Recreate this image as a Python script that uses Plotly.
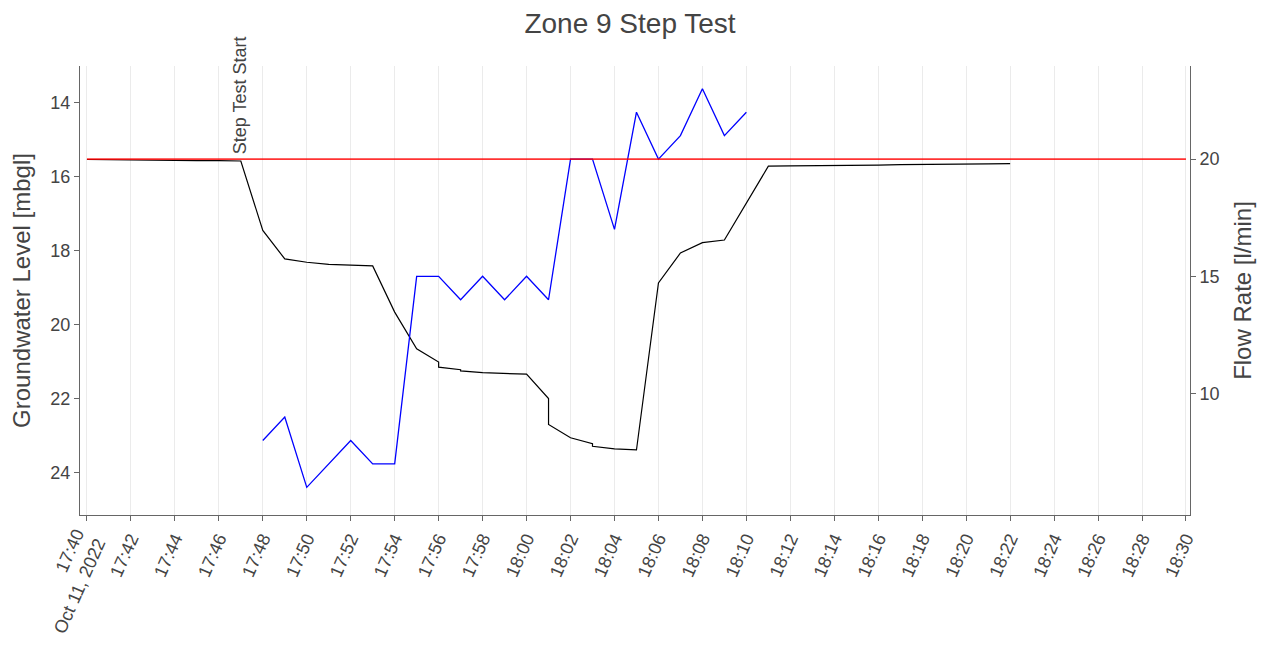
import plotly.graph_objects as go

DAY = "2022-10-11 "

# groundwater level (mbgl), duplicated minutes give the small vertical steps
gw_times = ["17:40", "17:41", "17:42", "17:43", "17:44", "17:45", "17:46", "17:47",
            "17:48", "17:49", "17:50", "17:51", "17:52", "17:53", "17:54", "17:55",
            "17:56", "17:56", "17:57", "17:57", "17:58", "17:59", "18:00",
            "18:01", "18:01", "18:02", "18:03", "18:03", "18:04", "18:05",
            "18:06", "18:07", "18:08", "18:09", "18:10", "18:11", "18:12", "18:13",
            "18:14", "18:15", "18:16", "18:17", "18:18", "18:19", "18:20", "18:21", "18:22"]
gw_level = [15.53, 15.54, 15.54, 15.55, 15.55, 15.56, 15.56, 15.57,
            17.45, 18.22, 18.31, 18.37, 18.39, 18.41, 19.66, 20.65,
            21.01, 21.15, 21.22, 21.25, 21.30, 21.32, 21.34,
            22.00, 22.70, 23.06, 23.22, 23.29, 23.36, 23.39,
            18.87, 18.06, 17.78, 17.71, 16.71, 15.71, 15.70, 15.70,
            15.69, 15.69, 15.68, 15.67, 15.67, 15.66, 15.65, 15.65, 15.64]

# flow rate (l/min)
flow_times = ["17:48", "17:49", "17:50", "17:51", "17:52", "17:53", "17:54", "17:55",
              "17:56", "17:57", "17:58", "17:59", "18:00", "18:01", "18:02", "18:03",
              "18:04", "18:05", "18:06", "18:07", "18:08", "18:09", "18:10"]
flow_rate = [8, 9, 6, 7, 8, 7, 7, 15,
             15, 14, 15, 14, 15, 14, 20, 20,
             17, 22, 20, 21, 23, 21, 22]

target_times = ["17:40", "18:30"]
target_flow = [20, 20]

step_start = "17:47"

fig = go.Figure()
fig.add_trace(go.Scatter(x=[DAY + t for t in gw_times], y=gw_level, mode="lines",
                         line=dict(color="black", width=1.2), name="Groundwater Level"))
fig.add_trace(go.Scatter(x=[DAY + t for t in flow_times], y=flow_rate, mode="lines",
                         line=dict(color="blue", width=1.3), name="Flow Rate", yaxis="y2"))
fig.add_trace(go.Scatter(x=[DAY + t for t in target_times], y=target_flow, mode="lines",
                         line=dict(color="red", width=1.8), opacity=0.8,
                         name="Target", yaxis="y2"))

fig.add_annotation(x=DAY + step_start, y=15.5, text="Step Test Start", textangle=-90,
                   showarrow=False, yanchor="bottom", yshift=2,
                   font=dict(size=18, color="#444"))

axis_style = dict(showline=True, linecolor="#666", linewidth=1, ticks="outside",
                  ticklen=5, tickcolor="#666", tickfont=dict(size=18, color="#444"),
                  zeroline=False, automargin=False)

fig.update_layout(
    width=1266, height=646,
    font=dict(family="Liberation Sans, Arial, sans-serif", color="#444"),
    title=dict(text="Zone 9 Step Test", x=622 / 1266, xanchor="center", y=1 - 15 / 646,
               yanchor="middle", font=dict(size=28, color="#444")),
    showlegend=False,
    plot_bgcolor="white", paper_bgcolor="white",
    margin=dict(l=72, r=84, t=58, b=139),
    xaxis=dict(**axis_style, showgrid=True, gridcolor="#ebebeb", dtick=120000,
               tickangle=-66,
               range=[DAY + "17:39:41", DAY + "18:30:11"]),
    yaxis=dict(**axis_style, showgrid=False, range=[25.15, 13.0],
               title=dict(text="Groundwater Level [mbgl]", font=dict(size=24, color="#444"))),
    yaxis2=dict(**axis_style, showgrid=False, overlaying="y", side="right",
                range=[4.82, 23.97], tickvals=[10, 15, 20],
                title=dict(text="Flow Rate [l/min]", font=dict(size=24, color="#444"))),
)

fig.write_html("out.html")
